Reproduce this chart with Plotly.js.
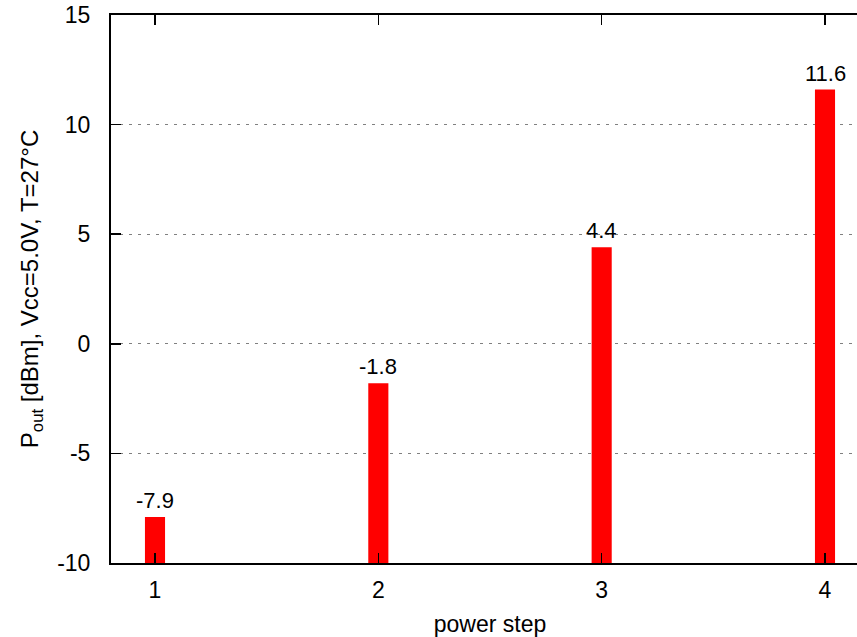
<!DOCTYPE html>
<html>
<head>
<meta charset="utf-8">
<script src="https://cdn.plot.ly/plotly-3.0.1.min.js"></script>
<style>
html,body{margin:0;padding:0;overflow:hidden;background:#fff;width:857px;height:637px;}
#chart{width:879px;height:637px;}
</style>
</head>
<body>
<div id="chart"></div>
<script>
const steps = [1, 2, 3, 4];
const poutDbm = [-7.9, -1.8, 4.4, 11.6];
const pointLabels = ['-7.9', '-1.8', '4.4', '11.6'];
const yTicks = [-10, -5, 0, 5, 10, 15];
const xTicks = [1, 2, 3, 4];

const yFloor = -10;
const FONT = '"Liberation Sans", Arial, sans-serif';

const trace = {
  type: 'bar',
  x: steps,
  y: poutDbm.map(v => v - yFloor),
  base: yFloor,
  width: 0.09,
  marker: {color: '#ff0000', line: {width: 0}},
  hoverinfo: 'skip'
};

const annotations = steps.map((s, i) => ({
  x: s, y: poutDbm[i], xref: 'x', yref: 'y',
  text: pointLabels[i], showarrow: false,
  xanchor: 'center', yanchor: 'bottom', yshift: 2,
  font: {family: FONT, size: 22, color: '#000'}
}));

const layout = {
  width: 879,
  height: 637,
  margin: {l: 111, r: 10, t: 15, b: 74},
  paper_bgcolor: '#fff',
  plot_bgcolor: '#fff',
  font: {family: FONT, size: 22, color: '#000'},
  showlegend: false,
  annotations: annotations,
  xaxis: {
    range: [0.803, 4.197],
    tickvals: xTicks,
    ticktext: xTicks.map(String),
    ticks: 'inside',
    ticklen: 10,
    tickwidth: 1.5,
    tickcolor: '#000',
    showline: true,
    linecolor: '#000',
    linewidth: 2,
    mirror: 'ticks',
    showgrid: false,
    zeroline: false,
    ticklabelstandoff: 5,
    tickfont: {family: FONT, size: 23},
    title: {text: 'power step', font: {family: FONT, size: 23}, standoff: 16}
  },
  yaxis: {
    range: [-10, 15],
    tickvals: yTicks,
    ticktext: yTicks.map(String),
    ticks: 'inside',
    ticklen: 10,
    tickwidth: 1.5,
    tickcolor: '#000',
    showline: true,
    linecolor: '#000',
    linewidth: 2,
    mirror: 'ticks',
    showgrid: true,
    gridcolor: '#808080',
    gridwidth: 1,
    griddash: '3px,6px',
    zeroline: false,
    ticklabelstandoff: 14,
    tickfont: {family: FONT, size: 23},
    title: {text: 'P<sub>out</sub> [dBm], Vcc=5.0V, T=27°C', font: {family: FONT, size: 24}, standoff: 12}
  }
};

Plotly.newPlot('chart', [trace], layout, {displayModeBar: false, staticPlot: true});
</script>
</body>
</html>
